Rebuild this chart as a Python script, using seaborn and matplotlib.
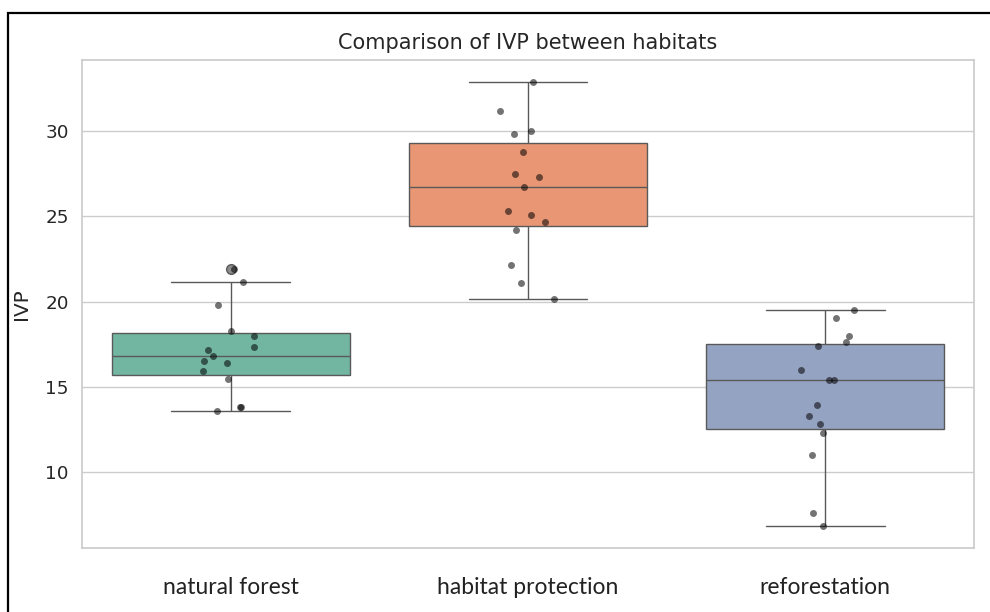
import numpy as np
import pandas as pd
import matplotlib
matplotlib.use("Agg")
import matplotlib.pyplot as plt
import seaborn as sns
from matplotlib.patches import Rectangle

# Data
categories = ["natural forest", "habitat protection", "reforestation"]
natural_forest = [21.93, 21.16, 19.80, 18.28, 17.99, 17.31, 17.17, 16.82,
                  16.53, 16.38, 15.91, 15.46, 13.81, 13.61, 13.79]
habitat_protection = [32.86, 31.17, 29.98, 29.85, 28.78, 27.46, 27.28, 26.74,
                      25.28, 25.08, 24.69, 24.17, 22.17, 21.10, 20.13]
reforestation = [19.49, 19.06, 17.99, 17.60, 17.37, 16.01, 15.41, 15.41,
                 13.91, 13.29, 12.80, 12.31, 10.99, 7.63, 6.85]
y_label = "IVP"
title = "Comparison of IVP between habitats"

df = pd.DataFrame({
    "habitat": [categories[0]] * len(natural_forest)
    + [categories[1]] * len(habitat_protection)
    + [categories[2]] * len(reforestation),
    "IVP": natural_forest + habitat_protection + reforestation,
})

sns.set_theme(style="whitegrid", font_scale=1.2)
np.random.seed(3)

fig = plt.figure(figsize=(9.9, 6.12), dpi=100)
ax = fig.add_axes([82 / 990, 1 - 548 / 612, (974 - 82) / 990, (548 - 60) / 612])

sns.boxplot(data=df, x="habitat", y="IVP", hue="habitat", palette="Set2",
            order=categories, legend=False, ax=ax, fliersize=7,
            flierprops={"markerfacecolor": "0.55", "markeredgecolor": "0.35"})
sns.stripplot(data=df, x="habitat", y="IVP", color="black", alpha=0.55,
              order=categories, ax=ax)

ax.set_title(title, fontsize=15, pad=8)
ax.set_xlabel("")
ax.set_ylabel(y_label, labelpad=10)
ax.tick_params(axis="x", pad=15)
for lab in ax.get_xticklabels():
    lab.set_fontfamily(["Lato", "DejaVu Sans"])
    lab.set_fontsize(16.5)
    lab.set_color("#222222")

fig.patches.append(Rectangle((8 / 990, -0.2), 1.5, (612 - 13) / 612 + 0.2,
                             transform=fig.transFigure, fill=False,
                             edgecolor="black", linewidth=1.6, zorder=10))

fig.savefig("out.png", dpi=100)
